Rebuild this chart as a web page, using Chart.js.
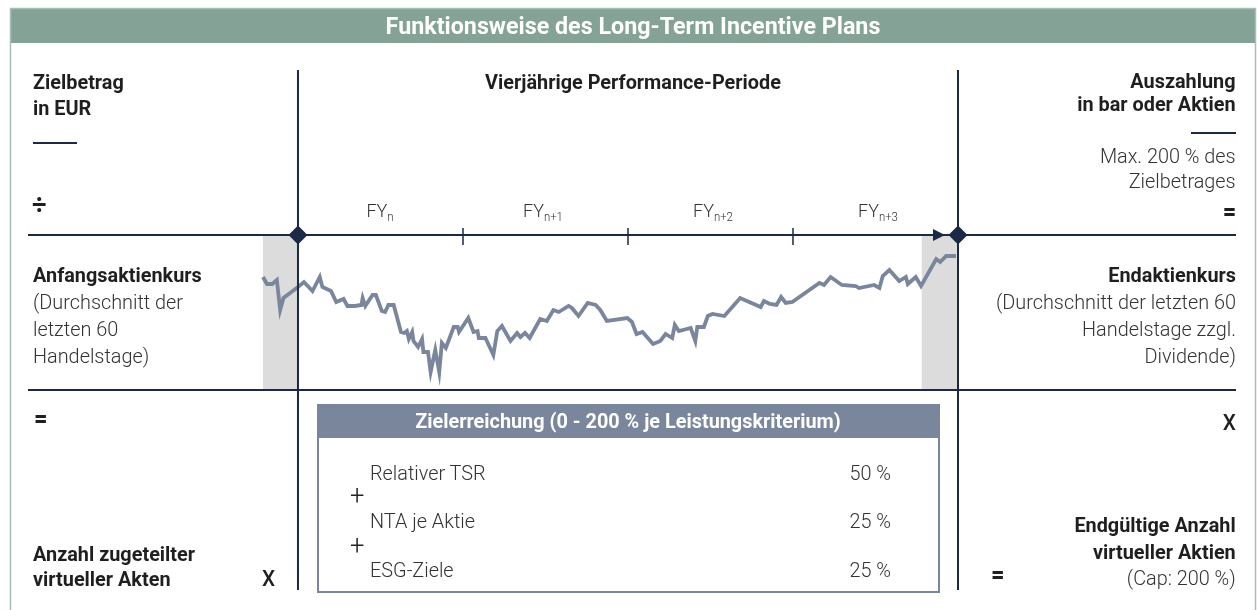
<!DOCTYPE html>
<html lang="de">
<head>
<meta charset="utf-8">
<title>Funktionsweise des Long-Term Incentive Plans</title>
<script src="https://cdn.jsdelivr.net/npm/chart.js@4.4.1/dist/chart.umd.min.js"></script>
<style>
  body { margin: 0; width: 1257px; height: 610px; overflow: hidden; background: #fff; font-family: Roboto, sans-serif; }
  #lti { position: absolute; left: 0; top: 0; }
  .t { position: absolute; white-space: nowrap; color: #1f1f1f; font-size: 21px; }
  .b { font-weight: 700; }
  .l { font-weight: 300; color: #333; }
  .lt { transform: scaleX(0.945); transform-origin: left center; }
  .rt { text-align: right; transform: scaleX(0.945); transform-origin: right center; }
  .ct { text-align: center; transform: translateX(-50%) scaleX(0.945); transform-origin: center center; }
  .w { color: #fff; }
  .op { font-size: 25px; line-height: 26px; }
  sub { font-size: 12px; line-height: 0; vertical-align: -4px; }
</style>
</head>
<body>
<canvas id="lti" width="1257" height="610"></canvas>

<div class="t b w ct" style="left:633px;top:12px;line-height:28px;font-size:24px;transform:translateX(-50%) scaleX(0.97)">Funktionsweise des Long-Term Incentive Plans</div>

<div class="t b lt" style="left:33px;top:68.5px;line-height:26px">Zielbetrag<br>in EUR</div>
<div class="t b lt op" style="left:32px;top:192px;font-size:27px">÷</div>
<div class="t lt" style="left:33px;top:262px;line-height:27px"><span class="b">Anfangsaktienkurs</span><br><span class="l">(Durchschnitt der<br>letzten 60<br>Handelstage)</span></div>
<div class="t b lt op" style="left:34px;top:406px">=</div>
<div class="t b lt" style="left:33px;top:541.5px;line-height:25px">Anzahl zugeteilter<br>virtueller Akten</div>
<div class="t lt" style="left:262px;top:566px;line-height:26px;font-size:22px;font-weight:500">X</div>

<div class="t b ct" style="left:633px;top:69px;line-height:26px">Vierjährige Performance-Periode</div>
<div class="t l ct" style="left:380px;top:198px;line-height:26px;font-size:19px">FY<sub>n</sub></div>
<div class="t l ct" style="left:543px;top:198px;line-height:26px;font-size:19px">FY<sub>n+1</sub></div>
<div class="t l ct" style="left:713px;top:198px;line-height:26px;font-size:19px">FY<sub>n+2</sub></div>
<div class="t l ct" style="left:878px;top:198px;line-height:26px;font-size:19px">FY<sub>n+3</sub></div>

<div class="t b w ct" style="left:628px;top:408px;line-height:26px">Zielerreichung (0 - 200 % je Leistungskriterium)</div>
<div class="t l lt" style="left:370px;top:459.5px;line-height:26px">Relativer TSR</div>
<div class="t l lt" style="left:370px;top:507.5px;line-height:26px">NTA je Aktie</div>
<div class="t l lt" style="left:370px;top:556.5px;line-height:26px">ESG-Ziele</div>
<div class="t l rt" style="right:366px;top:459.5px;line-height:26px">50 %</div>
<div class="t l rt" style="right:366px;top:507.5px;line-height:26px">25 %</div>
<div class="t l rt" style="right:366px;top:556.5px;line-height:26px">25 %</div>
<div class="t l lt" style="left:350px;top:482px;line-height:28px;font-size:27px;color:#222">+</div>
<div class="t l lt" style="left:350px;top:532px;line-height:28px;font-size:27px;color:#222">+</div>

<div class="t b rt" style="right:21px;top:70px;line-height:23px">Auszahlung<br>in bar oder Aktien</div>
<div class="t l rt" style="right:21px;top:143.5px;line-height:25px">Max. 200 % des<br>Zielbetrages</div>
<div class="t b rt op" style="right:21px;top:199px">=</div>
<div class="t rt" style="right:21px;top:262px;line-height:27px"><span class="b">Endaktienkurs</span><br><span class="l">(Durchschnitt der letzten 60<br>Handelstage zzgl.<br>Dividende)</span></div>
<div class="t rt" style="right:21px;top:409.5px;line-height:26px;font-size:22px;font-weight:500">X</div>
<div class="t rt" style="right:21px;top:512px;line-height:26.5px"><span class="b">Endgültige Anzahl<br>virtueller Aktien</span><br><span class="l">(Cap: 200 %)</span></div>
<div class="t b lt op" style="left:991px;top:562px">=</div>

<script>
// share price path over the four-year period (trading days, EUR)
const tradingDays = [
  -53, -47, -39, -32, -27, -22, -12, 0, 9, 22, 33, 37, 50, 58, 69, 75, 86, 96, 98, 102,
  113, 118, 127, 132, 137, 145, 156, 161, 165, 168, 173, 175, 182, 188, 190, 197, 201, 208, 214, 218,
  224, 236, 242, 244, 258, 266, 272, 274, 284, 296, 302, 309, 322, 332, 337, 344, 351, 367, 377, 387,
  395, 410, 415, 425, 439, 451, 458, 468, 499, 506, 513, 522, 538, 549, 557, 567, 571, 577, 595, 602,
  605, 615, 621, 628, 646, 670, 701, 706, 715, 725, 732, 739, 749, 790, 797, 807, 824, 845, 850, 873,
  881, 886, 896, 911, 921, 924, 936, 944, 967, 973, 982, 997
];
const sharePrice = [
  31.3, 30.6, 30.6, 31.0, 28.0, 29.2, 29.7, 30.3, 30.8, 29.9, 31.3, 30.3, 29.9, 28.8, 29.1, 28.4, 28.4, 28.5, 29.2, 28.4,
  29.5, 29.5, 27.9, 27.8, 28.5, 28.5, 25.8, 25.7, 25.9, 25.1, 25.8, 24.9, 24.3, 25.1, 23.8, 23.8, 21.8, 24.0, 21.8, 24.7,
  24.2, 26.3, 26.3, 25.8, 27.2, 25.8, 25.9, 25.2, 25.2, 23.5, 25.9, 26.4, 24.9, 25.7, 25.3, 25.7, 25.2, 27.1, 26.9, 28.0,
  27.8, 28.4, 28.2, 27.4, 28.7, 28.5, 28.0, 26.9, 27.2, 26.8, 25.6, 25.8, 24.6, 24.9, 25.6, 25.2, 26.5, 25.9, 26.2, 24.9,
  26.3, 26.3, 27.4, 27.6, 27.4, 29.2, 28.3, 28.9, 28.6, 28.5, 29.3, 28.7, 28.8, 30.7, 30.5, 31.3, 30.5, 30.4, 30.2, 30.5,
  30.2, 31.4, 32.0, 30.9, 31.3, 30.6, 31.3, 30.4, 33.1, 32.8, 33.4, 33.4
];
const fyBoundaries = [0, 250, 500, 750, 1000];
// 60-trading-day averaging windows before start and end of the period
const averagingWindows = [[-53, 0], [945, 1000]];

const navy = '#1c2946';
const slate = '#7a869b';

const diagram = {
  id: 'diagram',
  beforeDraw(chart) {
    const ctx = chart.ctx;
    ctx.save();
    // outer panel + title band
    ctx.fillStyle = '#84a396';
    ctx.fillRect(10, 8, 1246, 35);
    ctx.strokeStyle = '#a7bfb4';
    ctx.lineWidth = 1.5;
    ctx.strokeRect(10.5, 8.5, 1245, 620);
    // Zielerreichung box
    ctx.fillStyle = slate;
    ctx.fillRect(317, 404, 623, 34);
    ctx.strokeStyle = slate;
    ctx.lineWidth = 2;
    ctx.strokeRect(318, 405, 621, 187);
    ctx.restore();
  },
  beforeDatasetsDraw(chart) {
    const { ctx, chartArea, scales: { x } } = chart;
    ctx.save();
    ctx.fillStyle = '#dcdcdc';
    averagingWindows.forEach(([a, b]) => {
      const x0 = x.getPixelForValue(a), x1 = x.getPixelForValue(b);
      ctx.fillRect(x0, chartArea.top, x1 - x0, chartArea.bottom - chartArea.top);
    });
    ctx.restore();
  },
  afterDatasetsDraw(chart) {
    const { ctx, chartArea, scales: { x } } = chart;
    const yLine = chartArea.top - 1;
    const xs = fyBoundaries.map(v => x.getPixelForValue(v));
    const xStart = xs[0], xEnd = xs[xs.length - 1];
    ctx.save();
    ctx.strokeStyle = navy;
    ctx.fillStyle = navy;
    ctx.lineWidth = 2;
    ctx.beginPath();
    // period verticals
    ctx.moveTo(xStart, 70); ctx.lineTo(xStart, 590);
    ctx.moveTo(xEnd, 70); ctx.lineTo(xEnd, 590);
    // horizontal rules
    ctx.moveTo(28, yLine); ctx.lineTo(1236, yLine);
    ctx.moveTo(28, chartArea.bottom); ctx.lineTo(1236, chartArea.bottom);
    // fraction bars
    ctx.moveTo(33, 143); ctx.lineTo(77, 143);
    ctx.moveTo(1191, 133); ctx.lineTo(1236, 133);
    ctx.stroke();
    // FY ticks
    ctx.lineWidth = 1.5;
    ctx.beginPath();
    xs.slice(1, -1).forEach(px => { ctx.moveTo(px, yLine - 7); ctx.lineTo(px, yLine + 10); });
    ctx.stroke();
    // arrow head
    ctx.beginPath();
    ctx.moveTo(xEnd - 25, yLine - 6);
    ctx.lineTo(xEnd - 13, yLine);
    ctx.lineTo(xEnd - 25, yLine + 6);
    ctx.closePath();
    ctx.fill();
    // diamonds
    [xStart, xEnd].forEach(px => {
      ctx.beginPath();
      ctx.moveTo(px, yLine - 9.5);
      ctx.lineTo(px + 9.5, yLine);
      ctx.lineTo(px, yLine + 9.5);
      ctx.lineTo(px - 9.5, yLine);
      ctx.closePath();
      ctx.fill();
    });
    ctx.restore();
  }
};

new Chart(document.getElementById('lti'), {
  type: 'line',
  data: {
    datasets: [{
      label: 'Aktienkurs',
      data: tradingDays.map((d, i) => ({ x: d, y: sharePrice[i] })),
      borderColor: slate,
      borderWidth: 3.8,
      borderJoinStyle: 'miter',
      pointRadius: 0,
      tension: 0,
      clip: false
    }]
  },
  options: {
    responsive: false,
    animation: false,
    devicePixelRatio: 1,
    layout: { padding: { left: 263, right: 299, top: 236, bottom: 220 } },
    plugins: { legend: { display: false }, tooltip: { enabled: false } },
    scales: {
      x: { type: 'linear', min: -53, max: 1000, display: false },
      y: { min: 20, max: 35.4, display: false }
    }
  },
  plugins: [diagram]
});
</script>
</body>
</html>
